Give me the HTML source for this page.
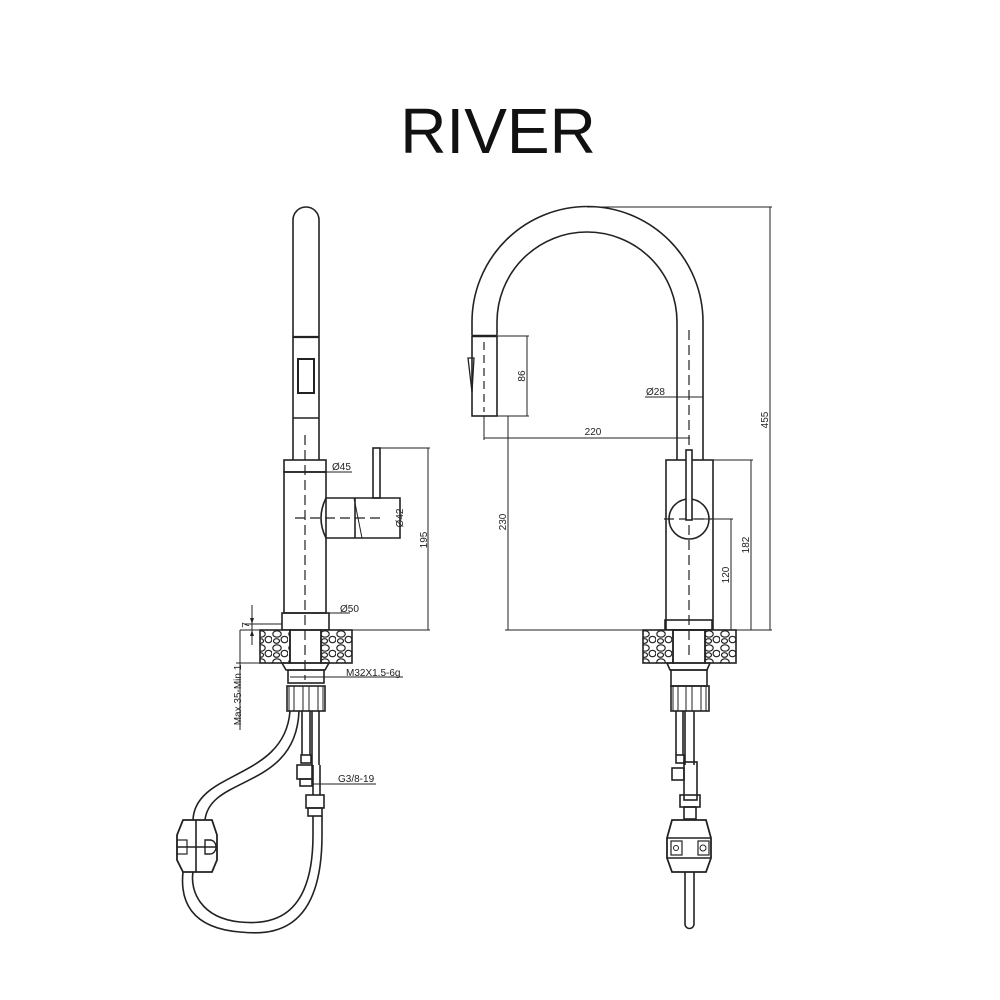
<!DOCTYPE html>
<html><head><meta charset="utf-8"><style>
html,body{margin:0;padding:0;background:#fff;}
svg{display:block}
text{font-family:"Liberation Sans",Arial,sans-serif;fill:#222}
</style></head><body>
<svg width="1000" height="1000" viewBox="0 0 1000 1000" xmlns="http://www.w3.org/2000/svg">
<defs>
<pattern id="stone" width="16" height="14" patternUnits="userSpaceOnUse">
<rect width="16" height="14" fill="#fff"/>
<ellipse cx="5" cy="4" rx="4.2" ry="3.2" fill="none" stroke="#222" stroke-width="1.2"/>
<ellipse cx="12.5" cy="9.5" rx="3.4" ry="3.2" fill="none" stroke="#222" stroke-width="1.2"/>
<ellipse cx="4.5" cy="11" rx="3" ry="2.3" fill="none" stroke="#222" stroke-width="1.2"/>
</pattern>
</defs>
<text x="498" y="153" font-size="64" text-anchor="middle" style="fill:#111">RIVER</text>

<g fill="none" stroke="#222" stroke-width="1.6">
<!-- LEFT VIEW -->
<path d="M293 460 V220 A13 13 0 0 1 319 220 V460"/>
<line x1="293" y1="337" x2="319" y2="337" stroke-width="2.2"/>
<rect x="298" y="359" width="16" height="34" stroke-width="2"/>
<line x1="293" y1="418" x2="319" y2="418"/>
<rect x="284" y="460" width="42" height="12"/>
<rect x="284" y="472" width="42" height="141"/>
<line x1="284" y1="472" x2="352" y2="472" stroke-width="1"/>
<line x1="305" y1="435" x2="305" y2="680" stroke-dasharray="10,5" stroke-width="1.2"/>
<path d="M326 498 Q316 518 326 538 H400 V498 Z"/>
<line x1="355" y1="498" x2="355" y2="538"/>
<line x1="354" y1="498" x2="362" y2="538" stroke-width="1"/>
<rect x="373" y="448" width="7" height="50"/>
<line x1="295" y1="518" x2="382" y2="518" stroke-dasharray="10,5" stroke-width="1.2"/>
<g stroke-width="1">
<line x1="380" y1="448" x2="430" y2="448"/>
<line x1="428" y1="448" x2="428" y2="630"/>
<line x1="329" y1="630" x2="430" y2="630"/>
<line x1="282" y1="613" x2="350" y2="613"/>
<line x1="252" y1="605" x2="252" y2="645"/>
<line x1="244" y1="624" x2="282" y2="624"/>
<line x1="240" y1="630" x2="262" y2="630"/>
<line x1="240" y1="630" x2="240" y2="730"/>
<line x1="236" y1="663" x2="262" y2="663"/>
</g>
<rect x="282" y="613" width="47" height="17"/>
<rect x="260" y="630" width="30" height="33" fill="url(#stone)"/>
<rect x="321" y="630" width="31" height="33" fill="url(#stone)"/>
<rect x="290" y="630" width="31" height="33"/>
<path d="M282 663 L286 670 H325 L329 663 Z"/>
<rect x="288" y="670" width="36" height="13"/>
<line x1="290" y1="677" x2="403" y2="677" stroke-width="1"/>
<rect x="287" y="686" width="38" height="25"/>
<rect x="289" y="686" width="5" height="25" stroke-width="1"/>
<rect x="303" y="686" width="6" height="25" stroke-width="1"/>
<rect x="318" y="686" width="5" height="25" stroke-width="1"/>
<line x1="302" y1="711" x2="302" y2="755"/><line x1="310" y1="711" x2="310" y2="755"/>
<line x1="312" y1="711" x2="312" y2="765"/><line x1="319" y1="711" x2="319" y2="765"/>
<rect x="301" y="755" width="10" height="8"/>
<rect x="297" y="765" width="15" height="14"/>
<rect x="300" y="779" width="12" height="7"/>
<line x1="313" y1="765" x2="313" y2="795"/><line x1="320" y1="765" x2="320" y2="795"/>
<line x1="312" y1="784" x2="376" y2="784" stroke-width="1"/>
<rect x="306" y="795" width="18" height="13"/>
<rect x="308" y="808" width="14" height="8"/>
<path d="M290 711 C285 780 195 770 193 820"/>
<path d="M299 711 C296 790 210 775 205 820"/>
<path d="M313 816 L313 835 C313 920 270 925 240 922 C200 918 190 890 193 872"/>
<path d="M322 816 L322 835 C322 935 270 935 240 932 C190 928 180 900 183 872"/>
<path d="M183 820 H212 L217 835 V860 L212 872 H183 L177 860 V835 Z" stroke-width="1.8"/>
<line x1="196" y1="820" x2="196" y2="872"/>
<line x1="177" y1="847" x2="217" y2="847"/>
<rect x="177" y="840" width="10" height="14" stroke-width="1.2"/>
<path d="M205 840 H210 A6 7 0 0 1 210 854 H205 Z" stroke-width="1.4"/>

<!-- RIGHT VIEW -->
<path d="M472 335 V322 A115 115 0 0 1 703 322 V460"/>
<path d="M497 335 V322 A90 90 0 0 1 677 322 V460"/>
<line x1="472" y1="336" x2="497" y2="336" stroke-width="2.4"/>
<rect x="472" y="336" width="25" height="80"/>
<path d="M468 358 L474 358 L472 392 Z" stroke-width="1.3"/>
<line x1="484" y1="342" x2="484" y2="412" stroke-dasharray="8,5" stroke-width="1.2"/>
<g stroke-width="1">
<line x1="497" y1="336" x2="529" y2="336"/>
<line x1="497" y1="416" x2="529" y2="416"/>
<line x1="527" y1="336" x2="527" y2="416"/>
<line x1="484" y1="416" x2="484" y2="440"/>
<line x1="484" y1="438" x2="690" y2="438"/>
<line x1="645" y1="397" x2="703" y2="397"/>
<line x1="508" y1="416" x2="508" y2="630"/>
<line x1="505" y1="630" x2="772" y2="630"/>
<line x1="587" y1="207" x2="772" y2="207"/>
<line x1="770" y1="207" x2="770" y2="630"/>
<line x1="713" y1="460" x2="753" y2="460"/>
<line x1="751" y1="460" x2="751" y2="630"/>
<line x1="689" y1="519" x2="733" y2="519"/>
<line x1="731" y1="519" x2="731" y2="630"/>
</g>
<line x1="689" y1="330" x2="689" y2="660" stroke-dasharray="10,5" stroke-width="1.2"/>
<rect x="666" y="460" width="47" height="170"/>
<line x1="664" y1="519" x2="712" y2="519" stroke-dasharray="10,5" stroke-width="1.2"/>
<circle cx="689" cy="519" r="20"/>
<rect x="686" y="450" width="6" height="70" fill="#fff"/>
<rect x="665" y="620" width="47" height="10"/>
<rect x="643" y="630" width="30" height="33" fill="url(#stone)"/>
<rect x="705" y="630" width="31" height="33" fill="url(#stone)"/>
<rect x="673" y="630" width="32" height="33"/>
<path d="M667 663 L670 670 H707 L710 663 Z"/>
<rect x="671" y="670" width="36" height="16"/>
<rect x="671" y="686" width="38" height="25"/>
<rect x="673" y="686" width="5" height="25" stroke-width="1"/>
<rect x="686" y="686" width="6" height="25" stroke-width="1"/>
<rect x="701" y="686" width="5" height="25" stroke-width="1"/>
<line x1="676" y1="711" x2="676" y2="755"/><line x1="683" y1="711" x2="683" y2="755"/>
<line x1="685" y1="711" x2="685" y2="765"/><line x1="694" y1="711" x2="694" y2="765"/>
<rect x="676" y="755" width="8" height="8"/>
<rect x="672" y="768" width="12" height="12"/>
<rect x="684" y="762" width="13" height="38"/>
<rect x="680" y="795" width="20" height="12"/>
<rect x="684" y="807" width="12" height="12"/>
<path d="M672 820 H706 L711 838 V858 L706 872 H672 L667 858 V838 Z" stroke-width="1.8"/>
<line x1="667" y1="838" x2="711" y2="838"/>
<line x1="667" y1="858" x2="711" y2="858"/>
<rect x="671" y="841" width="11" height="14" stroke-width="1.2"/>
<circle cx="676" cy="848" r="2.5" stroke-width="1"/>
<rect x="698" y="841" width="11" height="14" stroke-width="1.2"/>
<circle cx="703" cy="848" r="3" stroke-width="1"/>
<path d="M685 872 V924 A4.5 4.5 0 0 0 694 924 V872"/>
</g>
<g fill="#222">
<path d="M252 624 l-2 -6 h4 z"/><path d="M252 630 l-2 6 h4 z"/>
</g>
<g font-size="10">
<text x="332" y="470">Ø45</text>
<text x="340" y="612">Ø50</text>
<text x="346" y="676">M32X1.5-6g</text>
<text x="338" y="782">G3/8-19</text>
<text x="646" y="395">Ø28</text>
<text x="593" y="435" text-anchor="middle">220</text>
<text transform="translate(403,518) rotate(-90)" text-anchor="middle">Ø42</text>
<text transform="translate(427,540) rotate(-90)" text-anchor="middle">195</text>
<text transform="translate(249,625) rotate(-90)" text-anchor="middle">7</text>
<text transform="translate(241,695) rotate(-90)" text-anchor="middle">Max 35-Min 1</text>
<text transform="translate(525,376) rotate(-90)" text-anchor="middle">86</text>
<text transform="translate(506,522) rotate(-90)" text-anchor="middle">230</text>
<text transform="translate(749,545) rotate(-90)" text-anchor="middle">182</text>
<text transform="translate(729,575) rotate(-90)" text-anchor="middle">120</text>
<text transform="translate(768,420) rotate(-90)" text-anchor="middle">455</text>
</g>
</svg>
</body></html>
